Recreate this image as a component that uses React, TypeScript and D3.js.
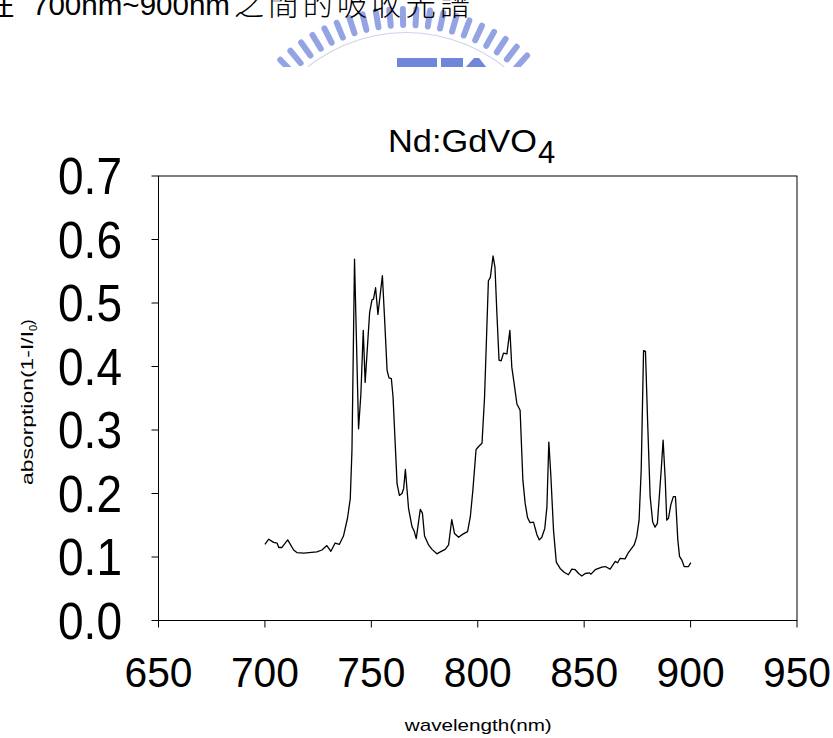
import React from "react";
import * as d3 from "d3";

const wavelengths = [
  700.0, 701.8, 704.1, 705.7, 706.5, 708.0, 710.7, 713.5, 715.0, 718.2, 724.4, 726.8, 729.1, 731.0, 733.0, 735.0,
  736.9, 738.8, 740.1, 740.9, 742.1, 744.0, 745.1, 746.2, 747.1, 749.2, 750.3, 751.0, 752.0, 753.1, 755.2, 756.2,
  757.4, 758.3, 759.4, 760.2, 762.1, 763.2, 764.4, 765.2, 766.0, 767.5, 769.1, 770.2, 771.1, 773.0, 774.0, 775.0,
  776.9, 778.5, 780.8, 782.4, 784.7, 786.3, 787.8, 789.1, 791.0, 793.0, 795.2, 796.5, 797.7, 799.2, 800.4, 802.0,
  803.2, 805.0, 805.9, 807.2, 808.1, 809.0, 810.0, 811.0, 812.1, 813.7, 815.1, 816.0, 817.1, 818.4, 819.9, 821.2,
  822.3, 823.4, 824.6, 826.2, 827.8, 828.9, 830.1, 831.5, 832.5, 833.4, 834.3, 835.6, 836.9, 838.7, 840.6, 842.6,
  844.2, 845.8, 847.4, 848.9, 850.5, 852.5, 853.2, 855.2, 858.3, 859.9, 862.2, 864.6, 865.7, 866.9, 869.2, 870.8,
  873.5, 874.7, 875.8, 876.8, 877.9, 878.8, 879.8, 881.0, 882.2, 883.3, 884.4, 885.3, 886.2, 887.1, 888.1, 888.8,
  889.6, 890.7, 891.9, 892.9, 894.0, 894.8, 895.9, 897.0, 899.0, 900.1,
];

const absorption = [
  0.120, 0.128, 0.123, 0.122, 0.115, 0.115, 0.127, 0.111, 0.107, 0.106, 0.108, 0.111, 0.118, 0.109, 0.122, 0.120,
  0.133, 0.161, 0.192, 0.268, 0.569, 0.302, 0.357, 0.457, 0.375, 0.485, 0.505, 0.506, 0.524, 0.482, 0.543, 0.477,
  0.394, 0.382, 0.381, 0.352, 0.215, 0.197, 0.200, 0.208, 0.238, 0.176, 0.148, 0.140, 0.129, 0.175, 0.169, 0.133,
  0.119, 0.112, 0.105, 0.108, 0.112, 0.119, 0.159, 0.137, 0.131, 0.136, 0.140, 0.163, 0.205, 0.269, 0.274, 0.279,
  0.352, 0.535, 0.540, 0.574, 0.556, 0.483, 0.410, 0.409, 0.421, 0.420, 0.457, 0.399, 0.373, 0.341, 0.331, 0.221,
  0.184, 0.162, 0.154, 0.155, 0.135, 0.127, 0.131, 0.145, 0.179, 0.281, 0.231, 0.142, 0.092, 0.082, 0.076, 0.072,
  0.081, 0.080, 0.074, 0.070, 0.074, 0.075, 0.073, 0.080, 0.084, 0.085, 0.081, 0.093, 0.091, 0.098, 0.097, 0.107,
  0.119, 0.132, 0.158, 0.237, 0.425, 0.424, 0.315, 0.195, 0.155, 0.147, 0.153, 0.195, 0.237, 0.284, 0.221, 0.158,
  0.161, 0.182, 0.195, 0.195, 0.127, 0.101, 0.095, 0.085, 0.085, 0.091,
];

const xTicks = [650, 700, 750, 800, 850, 900, 950];
const yTicks = [0.0, 0.1, 0.2, 0.3, 0.4, 0.5, 0.6, 0.7];

const titleMain = "Nd:GdVO";
const titleSub = "4";
const xTitle = "wavelength(nm)";
const yTitleMain = "absorption(1-I/I";
const yTitleSub = "0";
const yTitleEnd = ")";
const headPrefix = "在";
const headRange = "700nm~900nm";
const headSuffix = "之間的吸收光譜";

const W = 833;
const H = 738;
const L = 158.5;
const R = 797;
const T = 176;
const B = 620.5;

export default function App() {
  const x = d3.scaleLinear().domain([650, 950]).range([L, R]);
  const y = d3.scaleLinear().domain([0, 0.7]).range([B, T]);
  const pts = wavelengths.map((w, i) => [w, absorption[i]] as [number, number]);
  const line = d3
    .line<[number, number]>()
    .x((d) => x(d[0]))
    .y((d) => y(d[1]));
  const fmt = d3.format(".1f");

  // watermark teeth
  const cx = 406;
  const cy = 190;
  const teeth = d3.range(-44, 45, 4.3);

  return (
    <svg
      width={W}
      height={H}
      style={{ position: "absolute", left: 0, top: 0, display: "block", background: "#fff" }}
      fontFamily="'Liberation Sans', Arial, sans-serif"
    >
      <rect x={0} y={0} width={W} height={H} fill="#fff" />
      <defs>
        <clipPath id="wm">
          <rect x={0} y={0} width={W} height={67} />
        </clipPath>
      </defs>
      {/* watermark */}
      <g clipPath="url(#wm)">
        {teeth.map((a, i) => {
          const rad = (a * Math.PI) / 180;
          const r1 = 165;
          const r2 = 181;
          return (
            <line
              key={i}
              x1={cx + r1 * Math.sin(rad)}
              y1={cy - r1 * Math.cos(rad)}
              x2={cx + r2 * Math.sin(rad)}
              y2={cy - r2 * Math.cos(rad)}
              stroke="#93a3e4"
              strokeWidth={6}
              strokeLinecap="round"
            />
          );
        })}
        <path
          d={d3.arc()({ innerRadius: 157, outerRadius: 158, startAngle: -0.8, endAngle: 0.8 }) || ""}
          transform={`translate(${cx},${cy})`}
          fill="#cdd3ec"
        />
        <rect x={397} y={58} width={40} height={12} fill="#7086da" />
        <rect x={441} y={58} width={22} height={12} fill="#7086da" />
        <path d="M465,68 L474,58 L479,58 L487,68 Z" fill="#7086da" />
      </g>
      {/* cropped heading text */}
      <text x={-15} y={15} fontSize={30} fontFamily="'Noto Sans CJK TC', sans-serif" fill="#000">
        {headPrefix}
      </text>
      <text x={32} y={15} fontSize={30} textLength={198} lengthAdjust="spacingAndGlyphs" fill="#000">
        {headRange}
      </text>
      <text
        x={234}
        y={15}
        fontSize={30}
        textLength={236}
        lengthAdjust="spacing"
        fontFamily="'Noto Sans CJK TC', sans-serif"
        fontWeight={300}
        fill="#000"
      >
        {headSuffix}
      </text>

      {/* title */}
      <text x={388} y={152} fontSize={31} textLength={149} lengthAdjust="spacingAndGlyphs" fill="#000">
        {titleMain}
      </text>
      <text x={538} y={163} fontSize={31} fill="#000">
        {titleSub}
      </text>

      {/* plot frame */}
      <rect x={L} y={T} width={R - L} height={B - T} fill="none" stroke="#000" strokeWidth={1} />

      {/* y ticks */}
      {yTicks.map((t) => (
        <g key={"y" + t}>
          <line x1={L - 7} x2={L} y1={y(t)} y2={y(t)} stroke="#000" strokeWidth={1} />
          <text
            x={58}
            y={y(t)}
            dy="0.36em"
            fontSize={51}
            textLength={64}
            lengthAdjust="spacingAndGlyphs"
            fill="#000"
          >
            {fmt(t)}
          </text>
        </g>
      ))}

      {/* x ticks */}
      {xTicks.map((t) => (
        <g key={"x" + t}>
          <line x1={x(t)} x2={x(t)} y1={B} y2={B + 7} stroke="#000" strokeWidth={1} />
          <text
            x={x(t) - 34}
            y={687}
            fontSize={42}
            textLength={68}
            lengthAdjust="spacingAndGlyphs"
            fill="#000"
          >
            {t}
          </text>
        </g>
      ))}

      {/* axis titles */}
      <text x={x(800) - 73} y={731} fontSize={17} textLength={147} lengthAdjust="spacingAndGlyphs" fill="#000">
        {xTitle}
      </text>
      <text transform={`translate(33,485) rotate(-90)`} fontSize={17} fill="#000">
        <tspan textLength={154} lengthAdjust="spacingAndGlyphs">
          {yTitleMain}
        </tspan>
        <tspan fontSize={11} dy={4}>
          {yTitleSub}
        </tspan>
        <tspan dy={-4}>{yTitleEnd}</tspan>
      </text>

      {/* data line */}
      <path d={line(pts) || ""} fill="none" stroke="#000" strokeWidth={1.3} strokeLinejoin="round" />
    </svg>
  );
}
